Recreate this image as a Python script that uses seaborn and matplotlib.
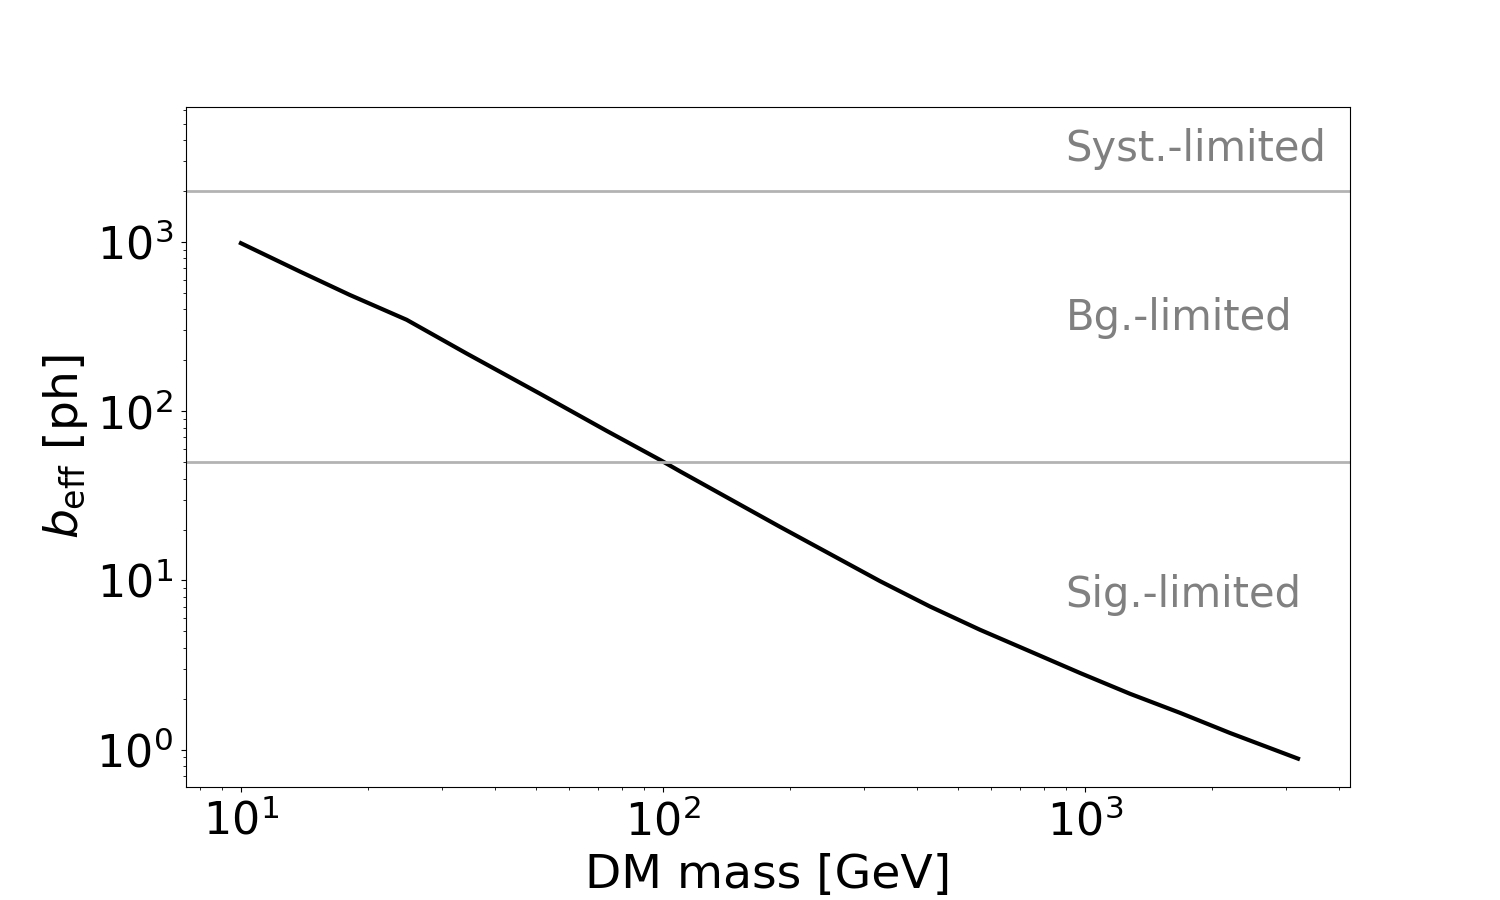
import pandas as pd
import seaborn as sns
import matplotlib.pyplot as plt

# Values
dm_mass = [10, 13.8, 18.1, 24.7, 34.3, 51.1, 73.6, 98.4, 110, 189, 327, 429, 564, 741, 973, 1278, 1680, 2206, 3197]
b_eff = [984, 669, 487, 347, 219, 127, 76.5, 51.6, 44.0, 20.8, 9.9, 7.02, 5.11, 3.81, 2.84, 2.14, 1.65, 1.255, 0.885]

# Regime boundaries and labels
syst_limit = 2000
sig_limit = 50
region_labels = ["Syst.-limited", "Bg.-limited", "Sig.-limited"]
region_label_y = [3000, 300, 7]
region_label_x = 900

if __name__ == "__main__":
    df = pd.DataFrame({"mass": dm_mass, "beff": b_eff})

    fig, ax = plt.subplots(figsize=(15, 9), dpi=100)
    fig.subplots_adjust(left=0.124, right=0.9, top=0.881, bottom=0.126)

    sns.lineplot(x="mass", y="beff", data=df, color="black", lw=3, ax=ax)
    ax.axhline(syst_limit, color="#b3b3b3", lw=2)
    ax.axhline(sig_limit, color="#b3b3b3", lw=2)

    for label, y in zip(region_labels, region_label_y):
        ax.text(region_label_x, y, label, color="gray", fontsize=30)

    ax.set_xscale("log")
    ax.set_yscale("log")
    ax.set_xlim(7.41, 4246)
    ax.set_ylim(0.605, 6270)

    ax.set_xlabel("DM mass [GeV]", fontsize=34, labelpad=6)
    ax.set_ylabel(r"$b_\mathrm{eff}$ [ph]", fontsize=34)
    ax.tick_params(labelsize=32, pad=6)

    plt.savefig("out.png")
